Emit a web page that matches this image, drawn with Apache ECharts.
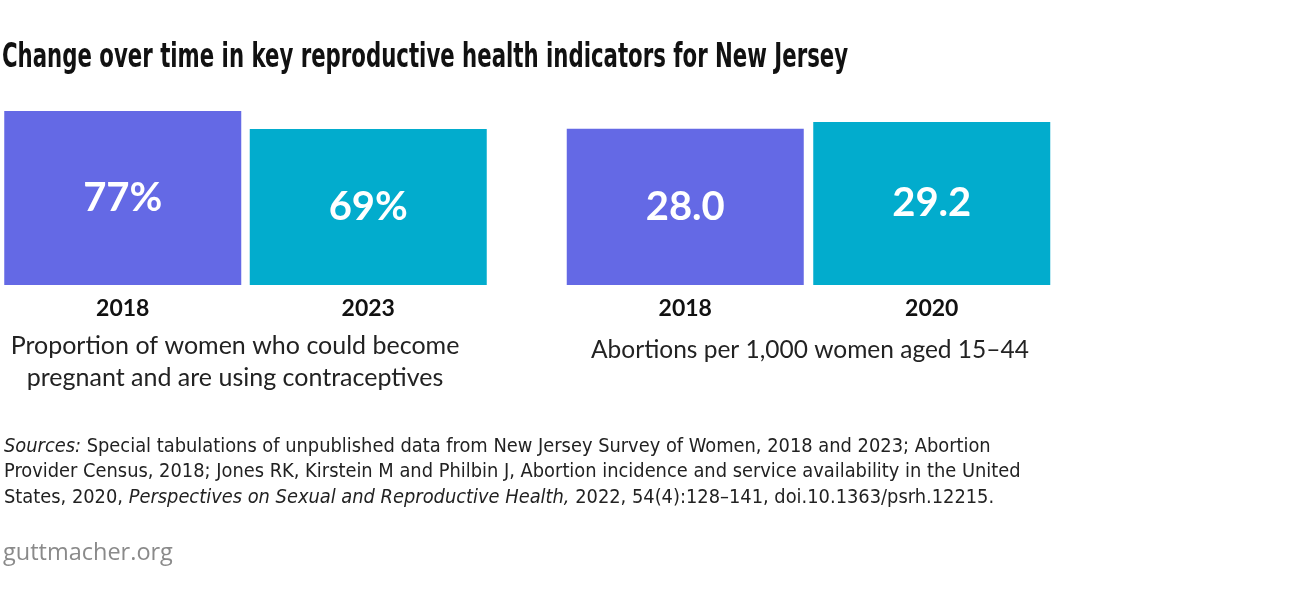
<!DOCTYPE html>
<html><head><meta charset="utf-8">
<script src="https://cdn.jsdelivr.net/npm/echarts@6/dist/echarts.min.js"></script>
<style>html,body{margin:0;padding:0;background:#fff}#c{width:1300px;height:602px}</style>
</head><body><div id="c"></div>
<script>
const chartTitle = 'Change over time in key reproductive health indicators for New Jersey';
const years1 = ['2018', '2023'];
const values1 = [77, 69];
const labels1 = ['77%', '69%'];
const caption1 = 'Proportion of women who could become\npregnant and are using contraceptives';
const years2 = ['2018', '2020'];
const values2 = [28.0, 29.2];
const labels2 = ['28.0', '29.2'];
const caption2 = 'Abortions per 1,000 women aged 15–44';
const colors = ['#6469e5', '#02accd'];

const chart = echarts.init(document.getElementById('c'));
const sans = 'Lato, "Open Sans", sans-serif';
const narrow = '"Liberation Sans Narrow", "DejaVu Sans Condensed", sans-serif';
function mkData(vals, labs) {
  return vals.map((v, i) => ({value: v, itemStyle: {color: colors[i]}, label: {formatter: labs[i]}}));
}
const xCommon = {
  type: 'category', axisLine: {show: false}, axisTick: {show: false},
  axisLabel: {fontFamily: sans, fontWeight: 'bold', fontSize: 23, color: '#111', margin: 12}
};
const yCommon = {type: 'value', show: false, min: 0, max: 'dataMax', splitLine: {show: false}};
const barCommon = {
  type: 'bar', barWidth: 237,
  label: {show: true, position: 'inside', color: '#fff', fontFamily: sans, fontWeight: 'bold', fontSize: 40}
};
chart.setOption({
  animation: false,
  graphic: [
    {type: 'text', left: 2, top: 42, scaleX: 0.7166, scaleY: 1,
     style: {text: chartTitle, font: 'bold 33px "DejaVu Sans Condensed", sans-serif', fill: '#111'}}
  ],
  title: [
    {text: caption1, left: 235, top: 330, textAlign: 'center', padding: 0,
     textStyle: {fontFamily: sans, fontWeight: 'normal', fontSize: 25, lineHeight: 32, color: '#222', align: 'center'}},
    {text: caption2, left: 810, top: 334, textAlign: 'center', padding: 0,
     textStyle: {fontFamily: sans, fontWeight: 'normal', fontSize: 24.5, lineHeight: 32, color: '#222'}},
    {text: '{i|Sources:} Special tabulations of unpublished data from New Jersey Survey of Women, 2018 and 2023; Abortion\nProvider Census, 2018; Jones RK, Kirstein M and Philbin J, Abortion incidence and service availability in the United\nStates, 2020, {i|Perspectives on Sexual and Reproductive Health,} 2022, 54(4):128–141, doi.10.1363/psrh.12215.',
     left: 4, top: 434, padding: 0,
     textStyle: {fontFamily: narrow, fontWeight: 'normal', fontSize: 19.85, lineHeight: 25.5, color: '#222',
       rich: {i: {fontFamily: narrow, fontStyle: 'italic', fontSize: 19.85, lineHeight: 25.5, color: '#222'}}}},
    {text: 'guttmacher.org', left: 3, top: 541, padding: 0,
     textStyle: {fontFamily: '"Open Sans", sans-serif', fontWeight: 'normal', fontSize: 23.5, color: '#8a8a8a'}}
  ],
  grid: [
    {left: -4, width: 495, top: 111, height: 174},
    {left: 562, width: 493, top: 122, height: 163}
  ],
  xAxis: [
    Object.assign({}, xCommon, {gridIndex: 0, data: years1}),
    Object.assign({}, xCommon, {gridIndex: 1, data: years2})
  ],
  yAxis: [
    Object.assign({}, yCommon, {gridIndex: 0}),
    Object.assign({}, yCommon, {gridIndex: 1})
  ],
  series: [
    Object.assign({}, barCommon, {xAxisIndex: 0, yAxisIndex: 0, data: mkData(values1, labels1)}),
    Object.assign({}, barCommon, {xAxisIndex: 1, yAxisIndex: 1, data: mkData(values2, labels2)})
  ]
});
</script></body></html>
